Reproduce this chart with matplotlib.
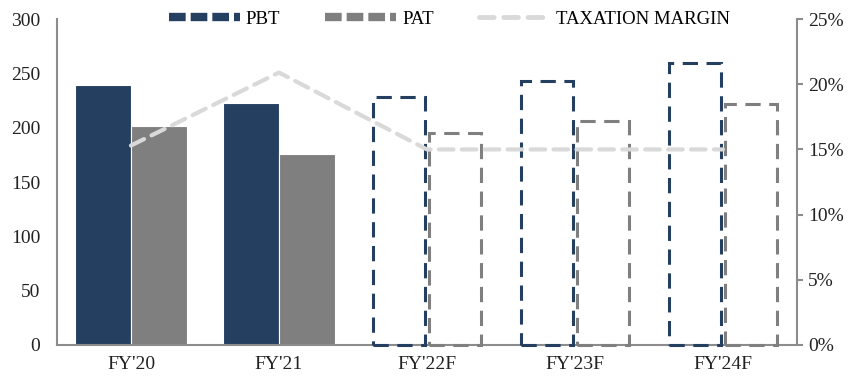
import numpy as np
import matplotlib.pyplot as plt
from matplotlib.lines import Line2D

# figures per fiscal year
years = ["FY'20", "FY'21", "FY'22F", "FY'23F", "FY'24F"]
pbt = [239, 223, 228, 243, 260]
pat = [202, 176, 195, 206, 222]
tax_margin = [15.3, 20.9, 15.0, 15.0, 15.0]
forecast = [False, False, True, True, True]

navy = '#243f60'
grey = '#7f7f7f'
light = '#d9d9d9'
axis_col = '#8c8c8c'

plt.rcParams['font.family'] = ['Liberation Serif', 'DejaVu Serif']

fig = plt.figure(figsize=(8.54, 3.82), dpi=100)
ax = fig.add_axes([0.0667, 0.097, 0.8665, 0.853])
ax2 = ax.twinx()

x = np.arange(len(years))
w = 0.378

for i in range(len(years)):
    if forecast[i]:
        # forecast years: outline only, dashed
        ax.bar(x[i] - w / 2, pbt[i], w - 0.03, fill=False, edgecolor=navy,
               linewidth=2.2, linestyle=(0, (5, 2.8)), clip_on=False, zorder=3)
        ax.bar(x[i] + w / 2, pat[i], w - 0.03, fill=False, edgecolor=grey,
               linewidth=2.2, linestyle=(0, (5, 2.8)), clip_on=False, zorder=3)
    else:
        ax.bar(x[i] - w / 2, pbt[i], w, color=navy, edgecolor='white', linewidth=0.8)
        ax.bar(x[i] + w / 2, pat[i], w, color=grey, edgecolor='white', linewidth=0.8)

ax2.plot(x, tax_margin, color=light, linewidth=3, linestyle=(0, (3.5, 2)),
         solid_capstyle='round', dash_capstyle='round')

ax.set_xlim(-0.5, 4.5)
ax.set_ylim(0, 300)
ax.set_yticks(range(0, 301, 50))
ax2.set_ylim(0, 25)
ax2.set_yticks(range(0, 26, 5))
ax2.set_yticklabels([f'{v}%' for v in range(0, 26, 5)])
ax.set_xticks(x)
ax.set_xticklabels(years)

ax.spines['top'].set_visible(False)
ax.spines['right'].set_visible(False)
for s in ('left', 'bottom'):
    ax.spines[s].set_color(axis_col)
    ax.spines[s].set_linewidth(1.5)
    ax.spines[s].set_zorder(1)
for s in ('top', 'left', 'bottom'):
    ax2.spines[s].set_visible(False)
ax2.spines['right'].set_color(axis_col)
ax2.spines['right'].set_linewidth(1.5)

for a in (ax, ax2):
    a.tick_params(labelsize=14, colors='#222222')

ax.tick_params(axis='y', length=0, pad=12)
ax.tick_params(axis='x', length=0, pad=8)
ax2.tick_params(axis='y', length=4, color=axis_col, width=1.5, pad=4)

handles = [
    Line2D([], [], color=navy, linewidth=6, linestyle=(0, (2, 0.6))),
    Line2D([], [], color=grey, linewidth=6, linestyle=(0, (2, 0.6))),
    Line2D([], [], color=light, linewidth=3.5, linestyle=(0, (3, 2)), dash_capstyle='round'),
]
ax2.legend(handles, ['PBT', 'PAT', 'TAXATION MARGIN'], loc='center',
           bbox_to_anchor=(0.53, 1.0), ncol=3, frameon=False,
           prop={'family': 'Liberation Serif', 'size': 13.5},
           handlelength=3.8, columnspacing=2.4, handletextpad=0.3)

fig.savefig('out.png', dpi=100)
